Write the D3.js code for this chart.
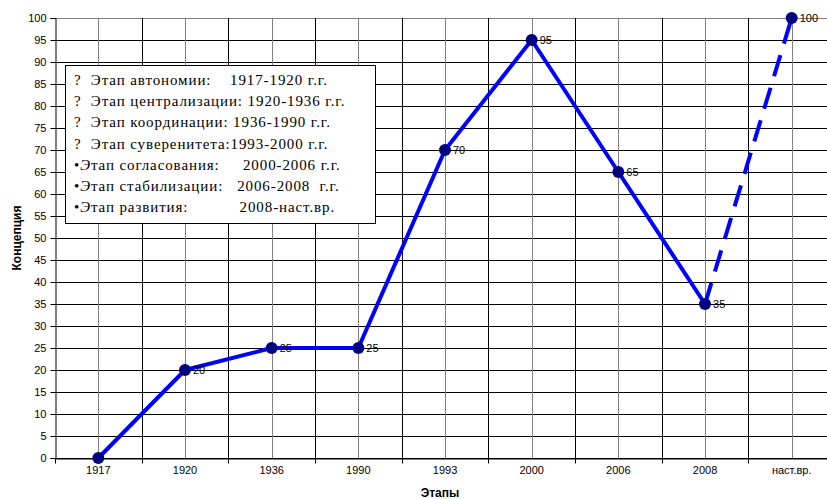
<!DOCTYPE html>
<html>
<head>
  <meta charset="utf-8">
  <title>Этапы</title>
  <script src="https://d3js.org/d3.v7.min.js"></script>
  <style>
    body { margin: 0; background: #fff; }
    svg { display: block; }
    .legend text { font-family: "Liberation Serif", "DejaVu Serif", serif; }
  </style>
</head>
<body>
  <script>
    var stages = ['1917', '1920', '1936', '1990', '1993', '2000', '2006', '2008', 'наст.вр.'];
    var values = [0, 20, 25, 25, 70, 95, 65, 35, 100];
    var yTicks = d3.range(0, 101, 5);
    var legendLines = [
      ['?', '  Этап автономии:    1917-1920 г.г.'],
      ['?', '  Этап централизации: 1920-1936 г.г.'],
      ['?', '  Этап координации: 1936-1990 г.г.'],
      ['?', '  Этап суверенитета:1993-2000 г.г.'],
      ['•', 'Этап согласования:     2000-2006 г.г.'],
      ['•', 'Этап стабилизации:   2006-2008  г.г.'],
      ['•', 'Этап развития:           2008-наст.вр.']
    ];

    var width = 827, height = 499;
    var margin = { top: 18, left: 55 };
    var graphHeight = 440;
    var bandW = 86.67;

    var svg = d3.select('body').append('svg')
      .attr('width', width)
      .attr('height', height)
      .attr('font-family', '"Liberation Sans", Arial, sans-serif');

    var x = d3.scaleBand()
      .domain(stages)
      .range([margin.left, margin.left + bandW * stages.length]);
    var y = d3.scaleLinear()
      .domain([0, 100])
      .range([margin.top + graphHeight, margin.top]);
    function cx(d) { return x(d) + x.bandwidth() / 2; }

    // horizontal grid
    svg.append('g').selectAll('line')
      .data(yTicks)
      .enter().append('line')
      .attr('x1', margin.left).attr('x2', x.range()[1])
      .attr('y1', function(d) { return Math.round(y(d)) + 0.5; })
      .attr('y2', function(d) { return Math.round(y(d)) + 0.5; })
      .attr('stroke', function(d) { return d === 100 ? '#808080' : '#000'; })
      .attr('stroke-width', 1);

    // vertical grid: band edges and centres
    var grid = svg.append('g');
    grid.selectAll('line.edge')
      .data(stages.slice(1))
      .enter().append('line')
      .attr('class', 'edge')
      .attr('x1', function(d) { return Math.round(x(d)) + 0.5; })
      .attr('x2', function(d) { return Math.round(x(d)) + 0.5; })
      .attr('y1', margin.top).attr('y2', margin.top + graphHeight)
      .attr('stroke', '#000');
    grid.selectAll('line.mid')
      .data(stages)
      .enter().append('line')
      .attr('class', 'mid')
      .attr('x1', function(d) { return Math.round(cx(d)) + 0.5; })
      .attr('x2', function(d) { return Math.round(cx(d)) + 0.5; })
      .attr('y1', margin.top).attr('y2', margin.top + graphHeight)
      .attr('stroke', '#808080');

    // axes
    var leftAxis = d3.axisLeft(y).tickValues(yTicks).tickSize(5).tickPadding(4)
      .tickFormat(d3.format('d'));
    svg.append('g')
      .attr('transform', 'translate(' + (margin.left + 0.5) + ',0)')
      .call(leftAxis)
      .call(function(g) {
        g.select('.domain').attr('stroke', '#000');
        g.selectAll('line').attr('stroke', '#000');
        g.selectAll('text').attr('font-size', 11).attr('fill', '#000')
          .attr('font-family', '"Liberation Sans", Arial, sans-serif');
      });

    var bottomAxis = d3.axisBottom(x).tickSize(0).tickPadding(8);
    var bAxis = svg.append('g')
      .attr('transform', 'translate(0,' + (margin.top + graphHeight + 0.5) + ')')
      .call(bottomAxis);
    bAxis.select('.domain').attr('stroke', '#000');
    bAxis.selectAll('text').attr('font-size', 11).attr('fill', '#000')
      .attr('font-family', '"Liberation Sans", Arial, sans-serif');
    bAxis.selectAll('line.edgeTick')
      .data(stages)
      .enter().append('line')
      .attr('class', 'edgeTick')
      .attr('x1', function(d) { return Math.round(x(d)) + 0.5; })
      .attr('x2', function(d) { return Math.round(x(d)) + 0.5; })
      .attr('y1', 0).attr('y2', 5)
      .attr('stroke', '#000');

    // axis titles
    svg.append('text')
      .attr('transform', 'translate(21,' + (margin.top + graphHeight / 2) + ') rotate(-90)')
      .attr('text-anchor', 'middle')
      .attr('font-size', 12).attr('font-weight', 'bold')
      .text('Концепция');
    svg.append('text')
      .attr('x', 440).attr('y', 497)
      .attr('text-anchor', 'middle')
      .attr('font-size', 12).attr('font-weight', 'bold')
      .text('Этапы');

    // legend box
    var legend = svg.append('g').attr('class', 'legend');
    legend.append('rect')
      .attr('x', 65.5).attr('y', 65.5)
      .attr('width', 310).attr('height', 158)
      .attr('fill', '#fff').attr('stroke', '#000');
    var lt = legend.selectAll('text')
      .data(legendLines)
      .enter().append('text')
      .attr('x', 74)
      .attr('y', function(d, i) { return 85 + i * 21.2; })
      .attr('font-size', 15)
      .attr('fill', '#000')
      .style('letter-spacing', '0.9px')
      .style('white-space', 'pre');
    lt.append('tspan').text(function(d) { return d[0]; });
    lt.append('tspan')
      .attr('font-style', function(d) { return d[0] === '•' ? 'italic' : null; })
      .text(function(d) { return d[0] === '•' ? d[1].charAt(0) : ''; });
    lt.append('tspan')
      .text(function(d) { return d[0] === '•' ? d[1].slice(1) : d[1]; });

    // line
    var pts = stages.map(function(s, i) { return { s: s, v: values[i] }; });
    var line = d3.line()
      .x(function(d) { return cx(d.s); })
      .y(function(d) { return y(d.v); });
    svg.append('path')
      .datum(pts.slice(0, pts.length - 1))
      .attr('d', line)
      .attr('fill', 'none')
      .attr('stroke', '#0000ff')
      .attr('stroke-width', 4)
      .attr('stroke-linejoin', 'round');
    svg.append('path')
      .datum(pts.slice(pts.length - 2))
      .attr('d', line)
      .attr('fill', 'none')
      .attr('stroke', '#0000ff')
      .attr('stroke-width', 4)
      .attr('stroke-dasharray', '22,12');

    svg.append('g').selectAll('circle')
      .data(pts)
      .enter().append('circle')
      .attr('cx', function(d) { return cx(d.s); })
      .attr('cy', function(d) { return y(d.v); })
      .attr('r', 6)
      .attr('fill', '#000080');

    svg.append('g').selectAll('text')
      .data(pts.filter(function(d) { return d.v > 0; }))
      .enter().append('text')
      .attr('x', function(d) { return cx(d.s) + 8; })
      .attr('y', function(d) { return y(d.v) + 4; })
      .attr('font-size', 11)
      .text(function(d) { return d.v; });
  </script>
</body>
</html>
